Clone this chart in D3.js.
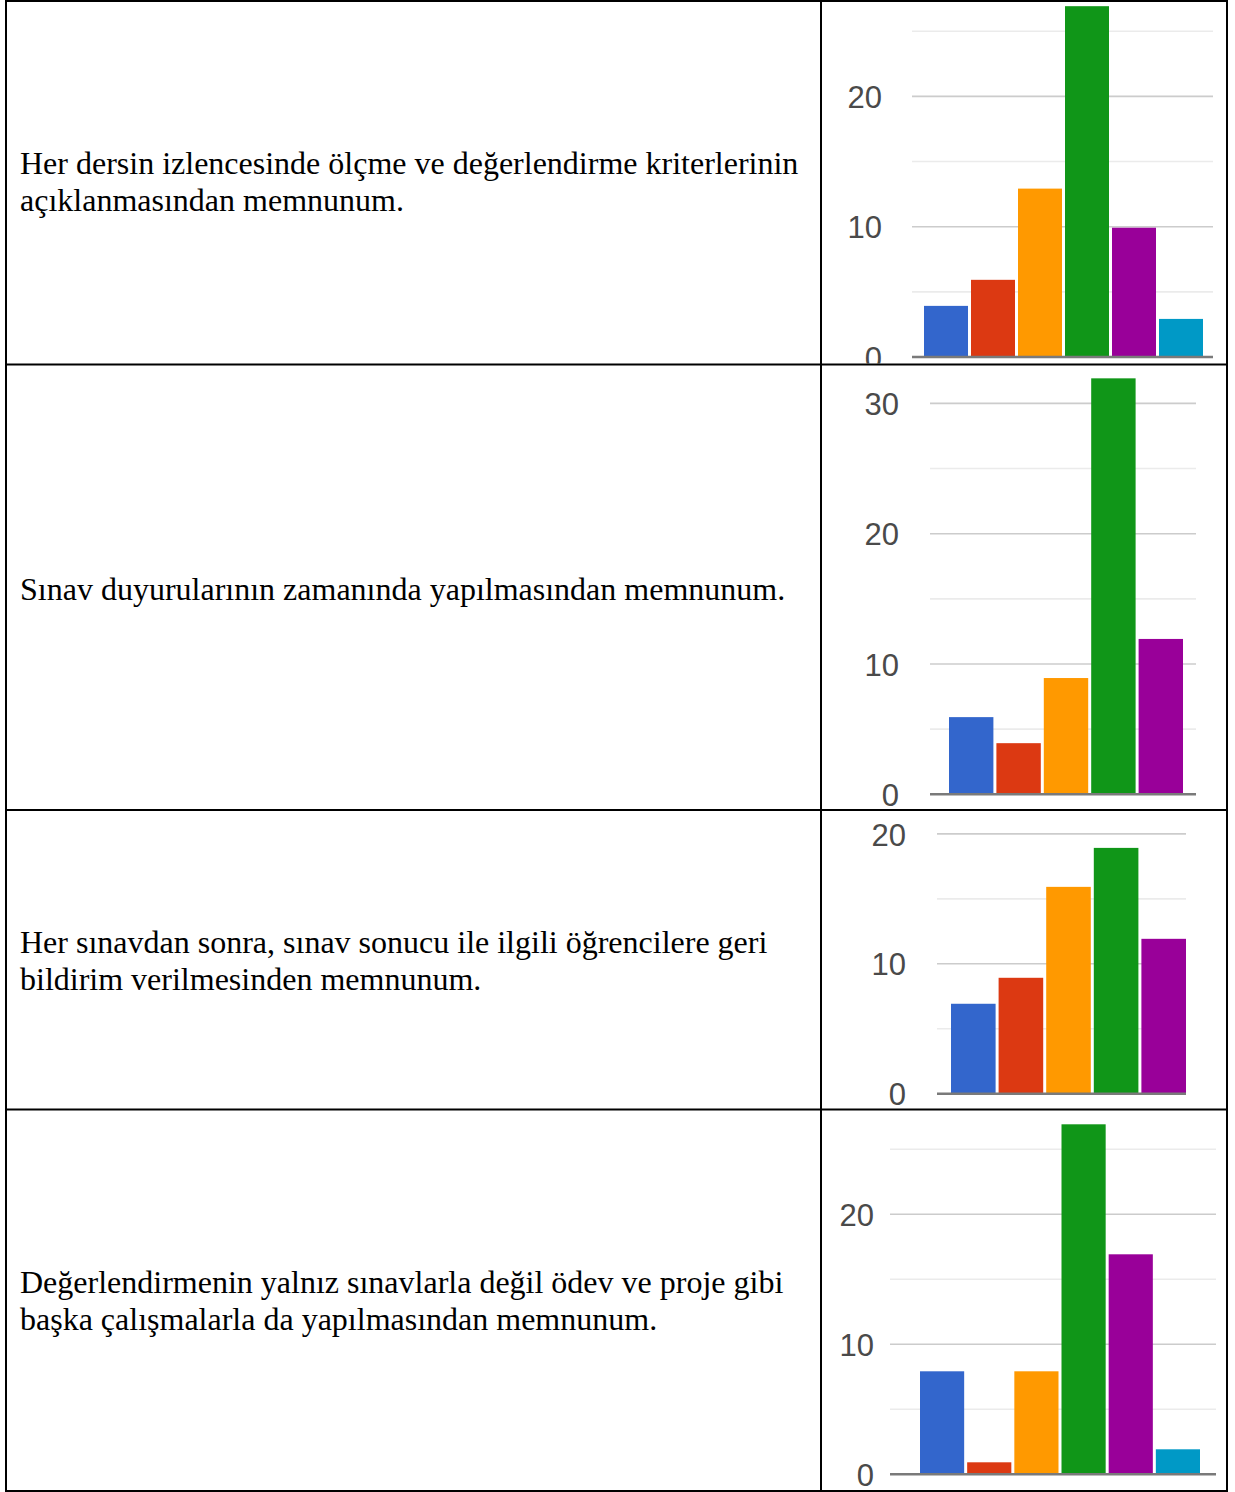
<!DOCTYPE html>
<html>
<head>
<meta charset="utf-8">
<script src="https://cdn.jsdelivr.net/npm/d3@7"></script>
<style>
  html, body { margin: 0; padding: 0; background: #fff; }
  svg { display: block; }
</style>
</head>
<body>
<svg id="chart" width="1235" height="1492"></svg>
<script>
// ---- data ----
const questions = [
  ["Her dersin izlencesinde ölçme ve değerlendirme kriterlerinin", "açıklanmasından memnunum."],
  ["Sınav duyurularının zamanında yapılmasından memnunum."],
  ["Her sınavdan sonra, sınav sonucu ile ilgili öğrencilere geri", "bildirim verilmesinden memnunum."],
  ["Değerlendirmenin yalnız sınavlarla değil ödev ve proje gibi", "başka çalışmalarla da yapılmasından memnunum."]
];
const categories6 = ["1", "2", "3", "4", "5", "6"];
const categories5 = ["1", "2", "3", "4", "5"];
const values1 = [4, 6, 13, 27, 10, 3];
const values2 = [6, 4, 9, 32, 12];
const values3 = [7, 9, 16, 19, 12];
const values4 = [8, 1, 8, 27, 17, 2];
const tickLabels1 = [0, 10, 20];
const tickLabels2 = [0, 10, 20, 30];
const tickLabels3 = [0, 10, 20];
const tickLabels4 = [0, 10, 20];
const gridValues1 = [5, 10, 15, 20, 25];
const gridValues2 = [5, 10, 15, 20, 25, 30];
const gridValues3 = [5, 10, 15, 20];
const gridValues4 = [5, 10, 15, 20, 25];
const colors = ["#3366cc", "#dc3912", "#ff9900", "#109618", "#990099", "#0099c6"];

// ---- layout ----
const svg = d3.select("#chart");
const rowEdges = [1, 364.5, 810, 1109.5, 1491];
const tableLeft = 6, tableRight = 1227, splitX = 821;

const panels = [
  { cats: categories6, vals: values1, ticks: tickLabels1, grid: gridValues1, labelRight: 882,
    gridX: [912, 1213], barX: [924, 1203], y0: 357, per10: 130.3, textBase: [174, 211] },
  { cats: categories5, vals: values2, ticks: tickLabels2, grid: gridValues2, labelRight: 899,
    gridX: [930, 1196], barX: [949, 1183], y0: 794.3, per10: 130.3, textBase: [600] },
  { cats: categories5, vals: values3, ticks: tickLabels3, grid: gridValues3, labelRight: 906,
    gridX: [937, 1186], barX: [951, 1186], y0: 1093.7, per10: 129.9, textBase: [953, 990] },
  { cats: categories6, vals: values4, ticks: tickLabels4, grid: gridValues4, labelRight: 874,
    gridX: [890, 1216], barX: [920, 1200], y0: 1474.3, per10: 130.0, textBase: [1293, 1330] }
];

const defs = svg.append("defs");

panels.forEach((p, i) => {
  const top = rowEdges[i], bottom = rowEdges[i + 1];
  defs.append("clipPath").attr("id", "clip" + i)
    .append("rect").attr("x", splitX + 1).attr("y", top + 1)
    .attr("width", tableRight - splitX - 2).attr("height", bottom - top - 2);

  // question text
  const t = svg.append("text")
    .attr("font-family", "'Liberation Serif', 'Times New Roman', serif")
    .attr("font-size", 32)
    .attr("fill", "#000");
  questions[i].forEach((line, j) => {
    t.append("tspan").attr("x", 20).attr("y", p.textBase[j]).text(line);
  });

  const g = svg.append("g").attr("clip-path", `url(#clip${i})`);

  const y = d3.scaleLinear().domain([0, 10]).range([p.y0, p.y0 - p.per10]);
  const L = p.barX[1] - p.barX[0];
  const step = (L + 3) / p.cats.length;
  const x = d3.scaleBand().domain(p.cats)
    .range([p.barX[0], p.barX[1]])
    .paddingInner(3 / step).paddingOuter(0);

  // gridlines
  g.selectAll("line.grid").data(p.grid).join("line")
    .attr("class", "grid")
    .attr("x1", p.gridX[0]).attr("x2", p.gridX[1])
    .attr("y1", d => y(d)).attr("y2", d => y(d))
    .attr("stroke", d => d % 10 === 0 ? "#cccccc" : "#ebebeb")
    .attr("stroke-width", 1.6);

  // bars
  g.selectAll("rect.bar").data(p.vals).join("rect")
    .attr("class", "bar")
    .attr("x", (d, k) => x(p.cats[k]))
    .attr("width", x.bandwidth())
    .attr("y", d => y(d) + 1)
    .attr("height", d => y(0) - y(d) - 1)
    .attr("fill", (d, k) => colors[k]);

  // baseline
  g.append("line")
    .attr("x1", p.gridX[0]).attr("x2", p.gridX[1])
    .attr("y1", y(0)).attr("y2", y(0))
    .attr("stroke", "#7a7a7a").attr("stroke-width", 2.4);

  // tick labels via axis
  const axis = d3.axisLeft(y).tickValues(p.ticks).tickSize(0).tickPadding(0)
    .tickFormat(d3.format("d"));
  const ag = g.append("g")
    .attr("transform", `translate(${p.labelRight},0)`)
    .call(axis);
  ag.select(".domain").remove();
  ag.selectAll("text")
    .attr("font-family", "'Liberation Sans', Arial, sans-serif")
    .attr("font-size", 31)
    .attr("fill", "#4a4a4a")
    .attr("dy", "0.36em");
});

// table borders
const border = svg.append("g").attr("stroke", "#000").attr("stroke-width", 2).attr("fill", "none");
border.append("rect").attr("x", tableLeft).attr("y", rowEdges[0])
  .attr("width", tableRight - tableLeft).attr("height", rowEdges[4] - rowEdges[0]);
border.append("line").attr("x1", splitX).attr("x2", splitX)
  .attr("y1", rowEdges[0]).attr("y2", rowEdges[4]);
border.selectAll("line.row").data(rowEdges.slice(1, 4)).join("line")
  .attr("class", "row")
  .attr("x1", tableLeft).attr("x2", tableRight)
  .attr("y1", d => d).attr("y2", d => d);
</script>
</body>
</html>
